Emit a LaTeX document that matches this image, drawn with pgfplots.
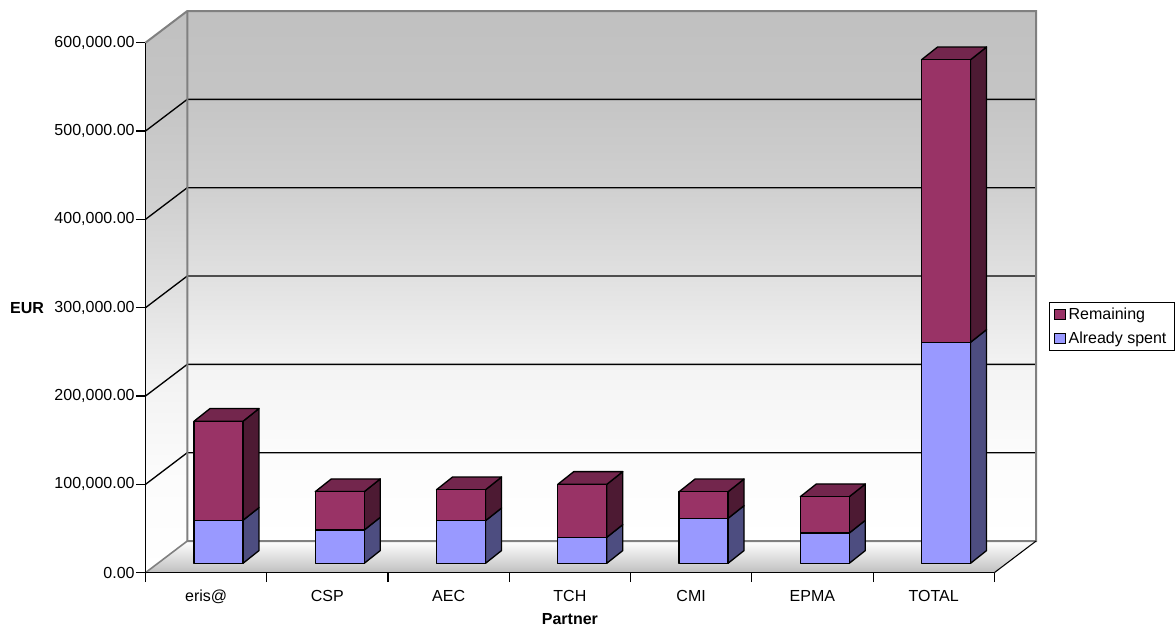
\documentclass[border=0pt]{standalone}
\usepackage{pgfplots}
\usepackage{pgfplotstable}
\usepackage{fontspec}
\setmainfont{Liberation Sans}
\pgfplotsset{compat=1.18}

\definecolor{rem}{HTML}{993366}
\definecolor{remside}{HTML}{4D1A33}
\definecolor{remtop}{HTML}{73264D}
\definecolor{spent}{HTML}{9999FF}
\definecolor{spentside}{HTML}{4D4D80}
\definecolor{wallgrey}{HTML}{BFBFBF}
\definecolor{edgegrey}{HTML}{808080}

% wall fade: stays grey at the top, reaches white near the floor
\pgfdeclareverticalshading{wallfade}{100bp}{
  rgb(0bp)=(1,1,1);
  rgb(25bp)=(1,1,1);
  rgb(33.3bp)=(.988,.988,.988);
  rgb(41.6bp)=(.953,.953,.953);
  rgb(50bp)=(.88,.88,.88);
  rgb(58.3bp)=(.815,.815,.815);
  rgb(66.6bp)=(.773,.773,.773);
  rgb(75bp)=(.753,.753,.753);
  rgb(100bp)=(.753,.753,.753)}

% unit box faces: u across the bar, d into the depth, h up the segment
\pgfplotstableread{
u d h
0 0 0
1 0 0
1 0 1
0 0 1
}\frontface
\pgfplotstableread{
u d h
1 0 0
1 1 0
1 1 1
1 0 1
}\sideface
\pgfplotstableread{
u d h
0 0 1
1 0 1
1 1 1
0 1 1
}\topface

% #1 category, #2 low, #3 high, #4 face, #5 colour
\newcommand{\face}[5]{%
  \addplot[fill=#5,draw=black,line width=1pt,line join=round,forget plot]
    table[x expr=#1-0.1+0.404*\thisrow{u}+0.132*\thisrow{d},
          y expr=#2+(#3-#2)*\thisrow{h}+10640+14376*\thisrow{d}] {#4} -- cycle;
}
% #1 category, #2 already spent, #3 remaining
\newcommand{\partner}[3]{%
  \face{#1}{0}{#2}{\sideface}{spentside}
  \face{#1}{#2}{#2+#3}{\sideface}{remside}
  \face{#1}{0}{#2+#3}{\topface}{remtop}
  \face{#1}{0}{#2}{\frontface}{spent}
  \face{#1}{#2}{#2+#3}{\frontface}{rem}
}
% gridline on the side wall and the back wall
\newcommand{\gridrow}[2]{%
  \addplot[black,line width=1pt,forget plot] coordinates {(-0.5,#1) (-0.1553,#2) (6.8447,#2)};
}

\begin{document}
\begin{tikzpicture}
\path (-109.125pt,-39.225pt) rectangle (772.875pt,429.525pt);
\begin{axis}[
  scale only axis,
  width=636.6pt,
  height=397.5pt,
  clip=false,
  axis on top,
  xmin=-0.5, xmax=6.5,
  ymin=0, ymax=600000,
  axis lines*=left,
  axis line style={-,black,line width=0.8pt},
  tick style={black,line width=0.8pt},
  tick align=outside,
  major tick length=7pt,
  xtick={-0.5,0.5,1.5,2.5,3.5,4.5,5.5,6.5},
  x tick label as interval,
  xticklabels={eris@,CSP,AEC,TCH,CMI,EPMA,TOTAL},
  ytick={0,100000,200000,300000,400000,500000,600000},
  scaled y ticks=false,
  /pgf/number format/.cd, fixed, fixed zerofill, precision=2, 1000 sep={,}, assume math mode=true,
  /pgfplots/.cd,
  tick label style={font=\fontsize{12}{14}\selectfont},
  yticklabel style={inner sep=1pt},
  xticklabel style={yshift=-2.5pt},
  xlabel={\textbf{Partner}},
  ylabel={\textbf{EUR}},
  every axis x label/.style={at={(axis description cs:0.5,-0.0874)},anchor=center,font=\fontsize{12}{14}\selectfont},
  every axis y label/.style={at={(axis description cs:-0.1396,0.5)},anchor=center,font=\fontsize{12}{14}\selectfont},
  legend style={at={(axis description cs:1.0641,0.5102)},anchor=north west,
    draw=black,line width=0.6pt,font=\fontsize{12}{14}\selectfont,
    inner xsep=3.8pt,inner ysep=2pt,row sep=3.5pt},
  legend cell align=left,
  legend image code/.code={\draw[#1,line width=0.8pt] (0pt,-3.8pt) rectangle (8pt,3.8pt);},
]
\addlegendimage{fill=rem,draw=black}
\addlegendentry{Remaining}
\addlegendimage{fill=spent,draw=black}
\addlegendentry{Already spent}

% walls and floor
\addplot[draw=none,shading=wallfade,forget plot]
  coordinates {(-0.1553,35880) (6.8447,35880) (6.8447,635880) (-0.1553,635880)} -- cycle;
\addplot[draw=none,shading=wallfade,forget plot]
  coordinates {(-0.5,0) (-0.1553,35880) (-0.1553,635880) (-0.5,600000)} -- cycle;
\addplot[draw=none,top color=white,bottom color=wallgrey,forget plot]
  coordinates {(-0.5,0) (6.5,0) (6.8447,35880) (-0.1553,35880)} -- cycle;

\gridrow{100000}{135880}
\gridrow{200000}{235880}
\gridrow{300000}{335880}
\gridrow{400000}{435880}
\gridrow{500000}{535880}
\addplot[edgegrey,line width=1.5pt,forget plot] coordinates {(-0.5,600000) (-0.1553,635880) (6.8447,635880) (6.8447,35880) (-0.1553,35880) (-0.1553,635880)};
\addplot[edgegrey,line width=1.2pt,forget plot] coordinates {(-0.5,0) (-0.1553,35880)};
\addplot[black,line width=0.8pt,forget plot] coordinates {(6.5,0) (6.8447,35880)};

\partner{0}{48700}{112100}
\partner{1}{37700}{43400}
\partner{2}{48200}{35100}
\partner{3}{29400}{60000}
\partner{4}{50900}{30100}
\partner{5}{34300}{41100}
\partner{6}{250200}{319900}
\end{axis}
\end{tikzpicture}
\end{document}
